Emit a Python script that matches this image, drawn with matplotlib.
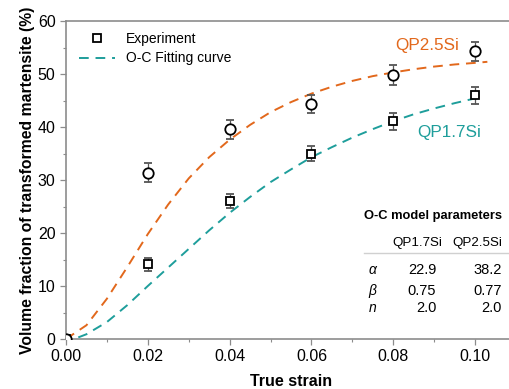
import matplotlib
matplotlib.use('Agg')
import matplotlib.pyplot as plt

plt.rcParams['font.family'] = ['Liberation Sans', 'DejaVu Sans']
plt.rcParams['mathtext.fontset'] = 'custom'
plt.rcParams['mathtext.it'] = 'Liberation Sans:italic'

# Experimental points
strain_exp = [0.0, 0.02, 0.04, 0.06, 0.08, 0.10]
vf_17si = [0.0, 14.1, 26.1, 35.0, 41.1, 46.0]
err_17si = [0.0, 1.2, 1.3, 1.5, 1.6, 1.6]
vf_25si = [0.0, 31.4, 39.6, 44.4, 49.8, 54.3]
err_25si = [0.0, 1.8, 1.8, 1.7, 1.9, 1.8]

# Fitting curves
strain_fit_25 = [0.0, 0.005, 0.01, 0.015, 0.02, 0.025, 0.03, 0.035, 0.04, 0.045, 0.05,
                 0.055, 0.06, 0.065, 0.07, 0.075, 0.08, 0.085, 0.09, 0.095, 0.10, 0.103]
fit_25si = [0.0, 2.6, 7.6, 13.6, 19.8, 25.4, 30.3, 34.3, 37.6, 40.4, 42.8,
            44.7, 46.3, 47.6, 48.7, 49.6, 50.3, 50.9, 51.4, 51.8, 52.1, 52.3]
strain_fit_17 = [0.003, 0.005, 0.01, 0.015, 0.02, 0.025, 0.03, 0.035, 0.04, 0.045, 0.05,
                 0.055, 0.06, 0.065, 0.07, 0.075, 0.08, 0.085, 0.09, 0.095, 0.10, 0.102]
fit_17si = [0.3, 0.9, 3.2, 6.4, 10.0, 13.5, 17.0, 20.5, 23.8, 26.8, 29.6,
            32.0, 34.3, 36.2, 38.0, 39.6, 41.1, 42.4, 43.5, 44.5, 45.4, 45.8]

# O-C parameter table
param_names = [r'$\alpha$', r'$\beta$', r'$n$']
param_17si = ['22.9', '0.75', '2.0']
param_25si = ['38.2', '0.77', '2.0']

orange = '#E2681C'
teal = '#1E9E9B'
gray = '#8c8c8c'

fig = plt.figure(figsize=(5.09, 3.89), dpi=100)
ax = fig.add_axes([66/509, 50/389, 450/509, 318/389])

dash = (0, (5, 3.5))
ax.plot(strain_fit_25, fit_25si, color=orange, lw=1.4, linestyle=dash)
ax.plot(strain_fit_17, fit_17si, color=teal, lw=1.4, linestyle=dash, label='O-C Fitting curve')

ax.errorbar(strain_exp, vf_17si, yerr=err_17si, fmt='s', ms=6, mfc='white', mec='black',
            mew=1.3, ecolor='#555555', elinewidth=0.9, capsize=3, capthick=0.9, zorder=5)
ax.errorbar(strain_exp, vf_25si, yerr=err_25si, fmt='o', ms=7.5, mfc='white', mec='black',
            mew=1.3, ecolor='#555555', elinewidth=0.9, capsize=3, capthick=0.9, zorder=5)

# legend entries
ax.plot([], [], 's', ms=6, mfc='white', mec='black', mew=1.3, label='Experiment')
h, l = ax.get_legend_handles_labels()
ax.legend([h[1], h[0]], [l[1], l[0]], loc='upper left', frameon=False, fontsize=10,
          handlelength=2.6, bbox_to_anchor=(0.0, 1.005), borderaxespad=0.5, labelspacing=0.4,
          handletextpad=0.8)

ax.set_xlim(0, 0.11)
ax.set_ylim(0, 60)
ax.set_xticks([0.0, 0.02, 0.04, 0.06, 0.08, 0.10])
ax.set_xticklabels(['0.00', '0.02', '0.04', '0.06', '0.08', '0.10'])
ax.set_xticks([0.01, 0.03, 0.05, 0.07, 0.09], minor=True)
ax.set_yticks(range(0, 61, 10))
ax.set_yticks(range(5, 60, 10), minor=True)
ax.tick_params(axis='both', which='major', labelsize=11.5, length=4, width=0.9, color=gray, direction='out')
ax.tick_params(axis='both', which='minor', length=2.5, width=0.8, color=gray, direction='out')
for side in ['left', 'bottom', 'top']:
    ax.spines[side].set_color(gray)
    ax.spines[side].set_linewidth(1.2)
ax.spines['right'].set_visible(False)

ax.set_xlabel('True strain', fontsize=11.5, fontweight='bold', labelpad=7)
ax.set_ylabel('Volume fraction of transformed martensite (%)', fontsize=11.3, fontweight='bold', labelpad=2)

ax.text(0.0883, 55.3, 'QP2.5Si', color=orange, fontsize=12.3, ha='center', va='center')
ax.text(0.0937, 39.0, 'QP1.7Si', color=teal, fontsize=12.3, ha='center', va='center')

# parameter table
fs = 10
ax.text(0.0729, 23.2, 'O-C model parameters', fontsize=9.3, fontweight='bold', va='center')
ax.text(0.0920, 18.1, 'QP1.7Si', fontsize=9.6, ha='right', va='center')
ax.text(0.1066, 18.1, 'QP2.5Si', fontsize=9.6, ha='right', va='center')
ax.plot([0.0729, 0.11], [16.2, 16.2], color='#d0d0d0', lw=1, clip_on=False)
rows_y = [13.0, 9.06, 5.85]
for i, name in enumerate(param_names):
    ax.text(0.0737, rows_y[i], name, fontsize=fs, va='center')
    ax.text(0.0905, rows_y[i], param_17si[i], fontsize=fs + 0.5, ha='right', va='center')
    ax.text(0.1066, rows_y[i], param_25si[i], fontsize=fs + 0.5, ha='right', va='center')

fig.savefig('out.png', dpi=100)
